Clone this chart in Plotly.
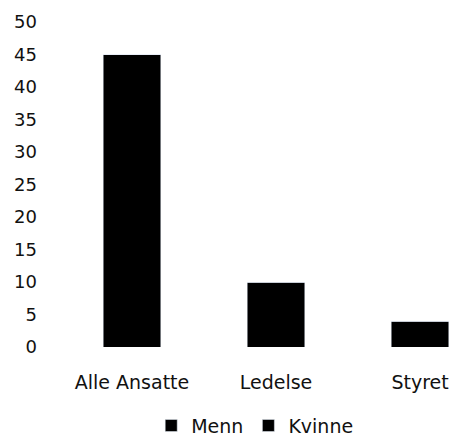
import plotly.graph_objects as go

categories = ["Alle Ansatte", "Ledelse", "Styret"]
menn = [45, 10, 4]
kvinne = [0, 0, 0]
y_ticks = [0, 5, 10, 15, 20, 25, 30, 35, 40, 45, 50]

font_family = "DejaVu Sans"

fig = go.Figure()
fig.add_trace(go.Bar(name="Menn", x=categories, y=menn, marker_color="#000000", width=0.4))
fig.add_trace(go.Bar(name="Kvinne", x=categories, y=kvinne, marker_color="#000000", width=0.4))

fig.update_layout(
    barmode="stack",
    width=451, height=436,
    margin=dict(l=60, r=0, t=22, b=89, autoexpand=False),
    paper_bgcolor="white", plot_bgcolor="white",
    font=dict(family=font_family, size=18, color="#111111"),
    showlegend=True,
    legend=dict(orientation="h", x=0.498, xanchor="center", y=-0.242, yanchor="middle",
                font=dict(size=19), itemwidth=30, traceorder="normal"),
    xaxis=dict(type="category", range=[-0.5, 2.215], showgrid=False, showline=False,
               zeroline=False, ticks="", ticklabelstandoff=22, automargin=False,
               tickfont=dict(size=19)),
    yaxis=dict(range=[0, 50], tickvals=y_ticks, showgrid=False, showline=False,
               zeroline=False, ticks="", ticklabelstandoff=22, automargin=False),
)

fig.write_html(
    "out.html",
    config={"displayModeBar": False},
    post_script="document.body.style.margin='0';document.body.style.overflow='hidden';",
)
